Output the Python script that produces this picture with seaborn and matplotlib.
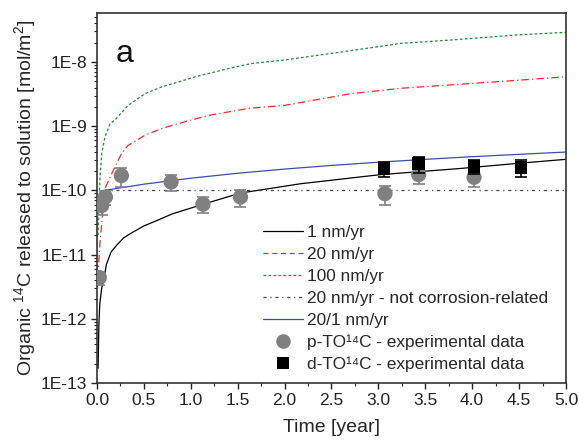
import numpy as np
import pandas as pd
import matplotlib
matplotlib.use("Agg")
import matplotlib.pyplot as plt
from matplotlib.lines import Line2D
from matplotlib.ticker import LogLocator, FuncFormatter, MultipleLocator
import seaborn as sns

# ---- data ----
t_1nm = [0.012, 0.02, 0.03, 0.05, 0.07, 0.10, 0.15, 0.21, 0.28, 0.35, 0.50, 0.64, 0.80, 1.00, 1.10, 1.53, 2.17, 3.02, 3.88, 4.50, 5.00]
v_1nm = [1.7e-13, 8e-13, 1.7e-12, 3.0e-12, 3.9e-12, 7.0e-12, 1.1e-11, 1.4e-11, 1.8e-11, 2.1e-11, 2.8e-11, 3.4e-11, 4.3e-11, 5.3e-11, 5.9e-11, 9.1e-11, 1.27e-10, 1.76e-10, 2.2e-10, 2.65e-10, 3.05e-10]

t_20nm = [0.01, 0.02, 0.032, 0.05, 0.085, 0.14, 0.19, 0.26, 0.33, 0.51, 0.69, 0.87, 1.05, 1.22, 1.40, 1.62, 1.99, 2.70, 3.24, 3.77, 4.49, 5.00]
v_20nm = [4.4e-12, 8e-12, 1.5e-11, 3.0e-11, 1.07e-10, 1.6e-10, 2.3e-10, 3.7e-10, 5.0e-10, 7.2e-10, 9.2e-10, 1.1e-9, 1.3e-9, 1.5e-9, 1.67e-9, 1.9e-9, 2.1e-9, 3.2e-9, 3.9e-9, 4.4e-9, 5.2e-9, 5.9e-9]

t_100nm = [0.012, 0.02, 0.032, 0.05, 0.085, 0.14, 0.19, 0.33, 0.51, 0.69, 0.87, 1.05, 1.22, 1.40, 1.65, 1.99, 2.70, 3.24, 3.77, 4.49, 5.00]
v_100nm = [2e-11, 5e-11, 1.6e-10, 3.7e-10, 6.8e-10, 1.1e-9, 1.24e-9, 2.1e-9, 3.2e-9, 4.1e-9, 4.9e-9, 5.9e-9, 6.8e-9, 7.9e-9, 9.5e-9, 1.07e-8, 1.5e-8, 1.95e-8, 2.2e-8, 2.65e-8, 2.9e-8]

t_nc = [0.08, 5.0]
v_nc = [1e-10, 1e-10]

t_mix = [0.08, 0.5, 1.0, 1.5, 2.0, 2.5, 3.0, 3.5, 4.0, 4.5, 5.0]
v_mix = [1.0e-10, 1.25e-10, 1.55e-10, 1.85e-10, 2.15e-10, 2.45e-10, 2.75e-10, 3.05e-10, 3.35e-10, 3.65e-10, 3.96e-10]

p_t = [0.025, 0.05, 0.09, 0.26, 0.79, 1.13, 1.53, 3.07, 3.43, 4.02]
p_v = [4.4e-12, 5.8e-11, 7.9e-11, 1.7e-10, 1.35e-10, 6.1e-11, 7.9e-11, 8.9e-11, 1.76e-10, 1.6e-10]
p_err = [1.0e-12, 1.7e-11, 2.0e-11, 5.5e-11, 3.8e-11, 1.7e-11, 2.4e-11, 2.9e-11, 5.0e-11, 4.5e-11]

d_t = [3.06, 3.43, 4.02, 4.52]
d_v = [2.2e-10, 2.6e-10, 2.37e-10, 2.3e-10]
d_err = [0.6e-10, 0.75e-10, 0.6e-10, 0.7e-10]

labels = ["1 nm/yr", "20 nm/yr", "100 nm/yr", "20 nm/yr - not corrosion-related", "20/1 nm/yr",
          "p-TO\u00b9\u2074C - experimental data", "d-TO\u00b9\u2074C - experimental data"]

# ---- style ----
sns.set_style("ticks")
plt.rcParams['font.family'] = ['Liberation Sans', 'DejaVu Sans']
plt.rcParams['mathtext.fontset'] = 'custom'
plt.rcParams['mathtext.rm'] = 'Liberation Sans'
plt.rcParams['mathtext.it'] = 'Liberation Sans'

fig = plt.figure(figsize=(5.79, 4.41), dpi=100)
ax = fig.add_axes([0.1675, 0.1315, 0.81, 0.839])

c_red = "#ee2a2a"
c_green = "#1f8a3c"
c_blue = "#3b4ea8"
c_grey = "#808080"
c_nc = "#444444"

def line(t, v, **kw):
    df = pd.DataFrame({"t": t, "v": v})
    sns.lineplot(data=df, x="t", y="v", ax=ax, sort=False, estimator=None, **kw)

line(t_1nm, v_1nm, color="black", lw=0.9)
line(t_20nm, v_20nm, color=c_red, lw=0.9, dashes=(6, 2.5, 1, 2.5))
line(t_100nm, v_100nm, color=c_green, lw=0.9, dashes=(2.2, 1.8))
line(t_nc, v_nc, color=c_nc, lw=0.9, dashes=(2.5, 3, 1, 3))
line(t_mix, v_mix, color=c_blue, lw=0.9)

ax.errorbar(p_t, p_v, yerr=p_err, fmt='none', ecolor=c_grey, elinewidth=1.2, capsize=4, capthick=1.2, zorder=3)
sns.scatterplot(x=p_t, y=p_v, ax=ax, color=c_grey, s=120, marker='o', edgecolor='none', zorder=4)
ax.errorbar(d_t, d_v, yerr=d_err, fmt='none', ecolor='black', elinewidth=1.2, capsize=4, capthick=1.2, zorder=5)
sns.scatterplot(x=d_t, y=d_v, ax=ax, color='black', s=85, marker='s', edgecolor='none', zorder=6)

ax.set_yscale('log')
ax.set_xlim(0, 5.0)
ax.set_ylim(1e-13, 5.8e-8)

ax.xaxis.set_major_locator(MultipleLocator(0.5))
ax.xaxis.set_minor_locator(MultipleLocator(0.25))
ax.xaxis.set_major_formatter(FuncFormatter(lambda v, p: f"{v:.1f}"))
ax.yaxis.set_major_locator(LogLocator(base=10, numticks=20))
ax.yaxis.set_minor_locator(LogLocator(base=10, subs=np.arange(2, 10), numticks=20))
ax.yaxis.set_major_formatter(FuncFormatter(lambda v, p: f"1E{int(round(np.log10(v)))}"))
ax.yaxis.set_minor_formatter(FuncFormatter(lambda v, p: ""))

ax.tick_params(axis='both', which='major', direction='out', length=4, width=1, labelsize=12.5, colors='#222222', pad=3)
ax.tick_params(axis='both', which='minor', direction='out', length=2.2, width=0.8, colors='#222222')
ax.tick_params(top=False, right=False, which='both')
for s in ax.spines.values():
    s.set_visible(True)
    s.set_linewidth(1.2)
    s.set_color('#333333')

ax.set_xlabel("Time [year]", fontsize=14, labelpad=8)
ax.set_ylabel("Organic $^{14}$C released to solution [mol/m$^2$]", fontsize=14, labelpad=2)

ax.text(0.04, 0.868, "a", transform=ax.transAxes, fontsize=23, color='#111111')

handles = [
    Line2D([], [], color='black', lw=0.9),
    Line2D([], [], color=c_red, lw=0.9, dashes=(4, 3)),
    Line2D([], [], color=c_green, lw=0.9, dashes=(2.2, 1.8)),
    Line2D([], [], color=c_nc, lw=0.9, dashes=(2.5, 3, 1, 3)),
    Line2D([], [], color=c_blue, lw=0.9),
    Line2D([], [], color=c_grey, marker='o', ls='none', markersize=10.5, markeredgewidth=0),
    Line2D([], [], color='black', marker='s', ls='none', markersize=8.5, markeredgewidth=0),
]
ax.legend(handles, labels, loc='upper left', bbox_to_anchor=(0.354, 0.426), frameon=False,
          fontsize=12.4, handlelength=2.33, handletextpad=0.23, labelspacing=0.39,
          borderpad=0, borderaxespad=0)

fig.savefig("out.png", dpi=100)
